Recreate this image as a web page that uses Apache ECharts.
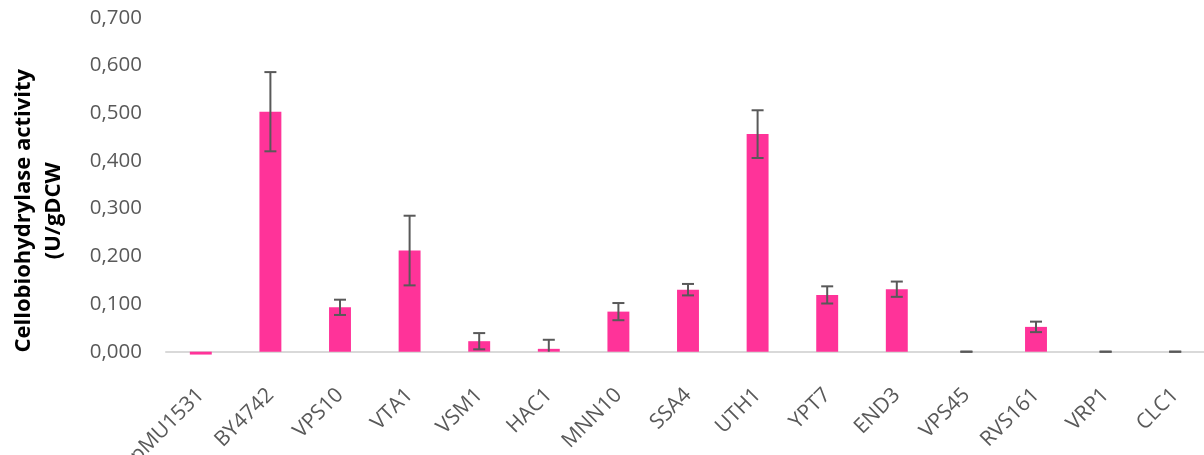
<!DOCTYPE html>
<html>
<head>
<meta charset="utf-8">
<script src="https://cdn.jsdelivr.net/npm/echarts@6/dist/echarts.min.js"></script>
<style>
  html, body { margin: 0; padding: 0; background: #fff; }
  #chart { width: 1204px; height: 455px; }
</style>
</head>
<body>
<div id="chart"></div>
<script>
// Strains tested
const categories = ['pMU1531', 'BY4742', 'VPS10', 'VTA1', 'VSM1', 'HAC1', 'MNN10', 'SSA4',
  'UTH1', 'YPT7', 'END3', 'VPS45', 'RVS161', 'VRP1', 'CLC1'];
// Mean cellobiohydrolase activity (U/gDCW)
const activity = [-0.006, 0.503, 0.093, 0.212, 0.022, 0.006, 0.084, 0.130,
  0.456, 0.119, 0.131, 0.000, 0.052, 0.000, 0.000];
// Standard deviation (null = no error bar)
const stdDev = [null, 0.083, 0.016, 0.073, 0.017, 0.019, 0.018, 0.012,
  0.050, 0.018, 0.016, 0.000, 0.011, 0.000, 0.000];
// Value axis ticks
const yMin = 0, yMax = 0.7, yStep = 0.1;

const errorData = [];
categories.forEach((c, i) => {
  if (stdDev[i] !== null) errorData.push([i, activity[i] - stdDev[i], activity[i] + stdDev[i]]);
});

const textColor = '#595959';
const fontFamily = '"Open Sans", "Liberation Sans", sans-serif';

const chart = echarts.init(document.getElementById('chart'), null, { renderer: 'canvas' });
chart.setOption({
  animation: false,
  grid: {
    left: 166, top: 17.7, width: 1044, bottom: 103.3,
    containLabel: false, outerBoundsMode: 'none'
  },
  xAxis: {
    type: 'category',
    data: categories,
    axisTick: { show: false },
    axisLine: { lineStyle: { color: '#D9D9D9', width: 2 } },
    axisLabel: { rotate: 45, color: textColor, fontSize: 21, fontFamily, margin: 40, interval: 0 }
  },
  yAxis: {
    type: 'value',
    min: yMin, max: yMax, interval: yStep,
    name: 'Cellobiohydrylase activity\n(U/gDCW',
    nameLocation: 'middle',
    nameGap: 97,
    nameTextStyle: {
      color: '#000', fontSize: 22, fontWeight: 'bold', fontFamily, lineHeight: 30,
      padding: [0, 52, 0, 0]
    },
    splitLine: { show: false },
    axisLine: { show: false },
    axisTick: { show: false },
    axisLabel: {
      color: textColor, fontSize: 20.5, fontFamily, margin: 24,
      formatter: v => v.toFixed(3).replace('.', ',')
    }
  },
  series: [
    {
      type: 'bar',
      data: activity,
      barWidth: '31.5%',
      clip: false,
      itemStyle: { color: '#FF3399' }
    },
    {
      type: 'custom',
      data: errorData,
      z: 10,
      renderItem: (params, api) => {
        const i = api.value(0);
        let low = api.value(1);
        const high = api.value(2);
        const clipped = low < yMin;
        if (clipped) low = yMin;
        const top = api.coord([i, high]);
        const bot = api.coord([i, low]);
        const half = 6;
        const style = { stroke: '#595959', lineWidth: 2 };
        const children = [
          { type: 'line', shape: { x1: top[0], y1: top[1], x2: bot[0], y2: bot[1] }, style },
          { type: 'line', shape: { x1: top[0] - half, y1: top[1], x2: top[0] + half, y2: top[1] }, style }
        ];
        if (!clipped) {
          children.push({ type: 'line', shape: { x1: bot[0] - half, y1: bot[1], x2: bot[0] + half, y2: bot[1] }, style });
        }
        return { type: 'group', children };
      }
    }
  ]
});
</script>
</body>
</html>
